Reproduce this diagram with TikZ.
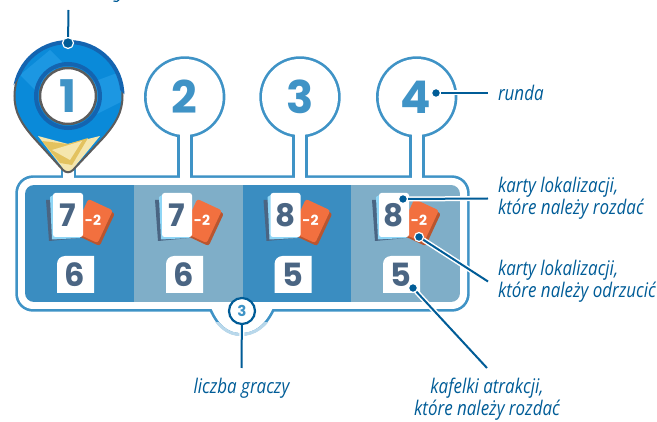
\documentclass[tikz,border=0pt]{standalone}
\usepackage{fontspec}
\setmainfont{Open Sans}
\newfontfamily\digitfont{Poppins}
\newfontfamily\labelfont[FakeStretch=0.84,ItalicFont={Open Sans Italic}]{Open Sans}
\definecolor{leaderBlue}{HTML}{005C97}
\definecolor{frameBlue}{HTML}{3F93C6}
\definecolor{frameFade}{HTML}{B9D8EB}
\definecolor{panelDark}{HTML}{3A8DC1}
\definecolor{panelLight}{HTML}{7FAEC8}
\definecolor{slateNum}{HTML}{4A6583}
\definecolor{cardEdge}{HTML}{8FD6F6}
\definecolor{orangeFace}{HTML}{F2703F}
\definecolor{orangeSide}{HTML}{B9552F}
\definecolor{pinBlue}{HTML}{0A8AD9}
\definecolor{pinLight}{HTML}{1C97E2}
\definecolor{pinDark}{HTML}{1464B0}
\definecolor{pinGrey}{HTML}{5C5C5C}
\definecolor{sandLight}{HTML}{F5E6AE}
\definecolor{sandDark}{HTML}{E3C25F}
\tikzset{
	callout/.style={font=\labelfont\itshape\fontsize{20.2}{22.5}\selectfont,text=leaderBlue,inner sep=0pt,outer sep=10pt,align=left},
	leader/.style={leaderBlue,line width=2pt,preaction={draw=white,line width=5pt}},
	dotmark/.style={circle,fill=leaderBlue,draw=white,line width=1.2pt,minimum size=9pt,inner sep=0pt},
	roundnum/.style={font=\digitfont\bfseries\fontsize{45}{45}\selectfont,text=frameBlue,inner sep=0pt},
	cardnum/.style={rounded corners=2.5pt,fill=white,minimum width=30pt,minimum height=44pt,inner sep=0pt,font=\digitfont\bfseries\fontsize{31}{31}\selectfont,text=slateNum},
	tilenum/.style={font=\digitfont\bfseries\fontsize{32}{32}\selectfont,text=slateNum,inner sep=0pt},
	orangecard/.style={rounded corners=2.5pt,minimum width=27pt,minimum height=36pt,inner sep=0pt,rotate=-25},
	minuslabel/.style={font=\digitfont\bfseries\fontsize{14}{14}\selectfont,text=white,inner sep=0pt}
}
% parts of the outline of the rounds and the panel, used twice
\newcommand{\frameparts}[1]{
	\path [#1,rounded corners=15pt] (18,178) -- (467,178) -- (467,309) -- (18,309) -- cycle;
	\path [#1] (210,305) .. controls (218,325) and (228,333) .. (241,333) .. controls (254,333) and (266,325) .. (274,305) -- cycle;
	\foreach \cx in {68.5,184.7,300,416.7}{
		\path [#1] (\cx,97) circle[radius=38];
		\path [#1] (\cx-5.2,130) rectangle (\cx+5.2,185);
	}
}
\def\pinshape{
	(14.5,96) .. controls (14.5,66) and (38,42) .. (68.5,42) .. controls (99,42) and (122.5,66) .. (122.5,96) .. controls (122.5,112) and (116,123) .. (104,137) -- (73,170) .. controls (70,173) and (66,173) .. (63,170) -- (33,137) .. controls (21,123) and (14.5,112) .. (14.5,96) -- cycle
}
\begin{document}
\begin{tikzpicture}[x=1pt,y=-1pt]
	\useasboundingbox (0,0) rectangle (657,422);

	% frame
	\frameparts{draw=frameBlue,line width=5.4pt,line join=round}
	\frameparts{fill=white}
	\begin{scope}
		\clip (200,323) rectangle (285,340);
		\draw [frameFade,line width=3pt] (210,310) .. controls (218,327) and (228,334.5) .. (241,334.5) .. controls (254,334.5) and (266,327) .. (274,310);
	\end{scope}

	% columns
	\begin{scope}
		\clip [rounded corners=9pt] (25,185) rectangle (460,302);
		\foreach \n/\xoff/\colfill/\cardval/\tileval in {1/0/panelDark/7/6,2/109/panelLight/7/6,3/217.5/panelDark/8/5,4/326/panelLight/8/5}{
			\begin{scope}[xshift=\xoff]
				\fill [\colfill] (25,185) rectangle (134,302);
				\fill [slateNum] (46,200) -- (49,241) -- (80,238) -- (80,198) -- cycle;
				\fill [cardEdge] (50,197) -- (52,239.5) -- (80,238) -- (80,194) -- (55,194) -- cycle;
				\node [orangecard,fill=orangeSide] (sideCard\n) at (95,224) {};
				\node [orangecard,fill=orangeFace] (dropCard\n) at (93,221) {};
				\node [cardnum] (dealCard\n) at (68,215) {\cardval};
				\node [minuslabel] (dropNum\n) at (93,220.5) {-2};
				\fill [white] (57,293) [rounded corners=8pt] -- (57,256) [sharp corners] -- (94,256) -- (94,293) -- cycle;
				\node [tilenum] (tile\n) at (75,275) {\tileval};
			\end{scope}
		}
	\end{scope}

	% pin on the first round
	\begin{scope}
		\clip \pinshape;
		\fill [pinBlue] (0,30) rectangle (130,180);
		\fill [pinLight] (20,75) -- (50,50) -- (62,62) -- (35,90) -- cycle;
		\fill [pinLight] (85,85) -- (125,70) -- (125,100) -- (95,115) -- cycle;
		\fill [sandLight] (38,136) -- (68,144) -- (100,136) -- (68,175) -- cycle;
		\fill [sandDark] (42,141) -- (68,144) -- (88,138) -- (72,165) -- (60,163) -- cycle;
		\fill [sandLight] (52,150) -- (82,141) -- (70,160) -- cycle;
	\end{scope}
	\draw [pinGrey,line width=2pt] \pinshape;
	\begin{scope}
		\clip (14,30) -- (130,30) -- (130,100) -- (100,70) -- (70,50) -- (30,62) -- (10,90) -- cycle;
		\draw [pinDark,line width=4pt] \pinshape;
	\end{scope}
	\node [circle,draw=pinDark,line width=4pt,minimum size=64pt,inner sep=0pt] (pinRing) at (68,96) {};
	\node [circle,draw=pinGrey,line width=2.5pt,fill=white,minimum size=56pt,inner sep=0pt] (pinHole) at (68,96) {};

	% numbers of the rounds
	\node [roundnum] (roundOne) at (68,96) {1};
	\node [roundnum] (roundTwo) at (184.5,97) {2};
	\node [roundnum] (roundThree) at (300,97) {3};
	\node [roundnum] (roundFour) at (416,97) {4};
	\node [circle,draw=leaderBlue,line width=2.2pt,fill=white,minimum size=26pt,inner sep=0pt,font=\digitfont\bfseries\fontsize{15}{15}\selectfont,text=frameBlue] (playersMark) at (242,311) {3};

	% labels
	\node [callout,anchor=west] (roundLabel) at (488,93) {runda};
	\node [callout,anchor=west] (dealLabel) at (488,198.5) {karty lokalizacji,\\które należy rozdać};
	\node [callout,anchor=west] (dropLabel) at (488,281.5) {karty lokalizacji,\\które należy odrzucić};
	\node [callout,anchor=north,align=center] (tileLabel) at (487,368) {kafelki atrakcji,\\które należy rozdać};
	\node [callout,anchor=north] (playersLabel) at (241.5,368) {liczba graczy};

	% dots
	\node [dotmark,minimum size=11pt] (dotPin) at (68,43) {};
	\node [dotmark] (dotRound) at (436,93) {};
	\node [dotmark] (dotDeal) at (403,199) {};
	\node [dotmark] (dotDrop) at (419,237) {};
	\node [dotmark] (dotTile) at (413,288) {};
	\coordinate (pinEnd) at (68.5,10);

	% leaders
	\draw [leader] (dotPin) -- (pinEnd);
	\draw [leader] (dotRound) -- (roundLabel.west);
	\draw [leader] (dotDeal) -- (dealLabel.west);
	\draw [leader] (dotDrop) -- (dropLabel.west);
	\draw [leader] (dotTile) -- (tileLabel.north);
	\draw [leader] (playersMark) -- (playersLabel.north);
	\draw [leaderBlue,line width=1.2pt] (113.5,1) .. controls (116,2) and (118,1.5) .. (119,0);
\end{tikzpicture}
\end{document}
